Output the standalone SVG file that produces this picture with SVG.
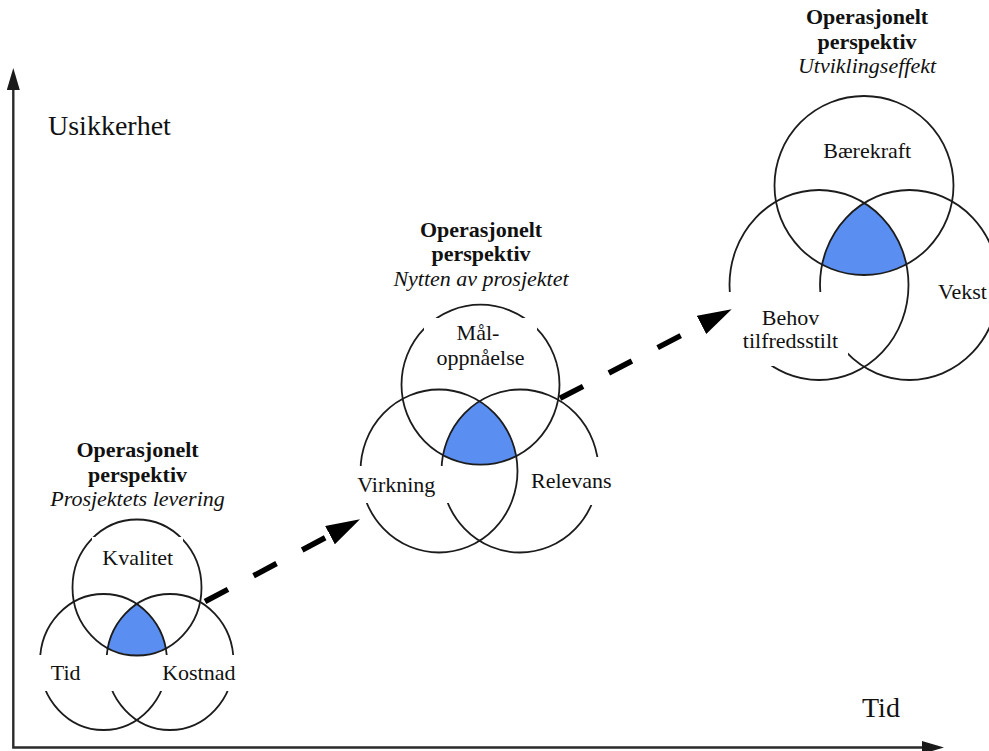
<svg xmlns="http://www.w3.org/2000/svg" width="989" height="751" viewBox="0 0 989 751" font-family="'Liberation Serif', 'Times New Roman', Tinos, Times, 'Nimbus Roman', 'DejaVu Serif', 'Noto Serif', serif">
  <defs>
    <style>
      .ring { fill: none; stroke: #1c1c1c; stroke-width: 1.8; }
      .core { fill: #5a8ef0; stroke: none; }
      .pad { fill: #ffffff; }
      text { font-family: 'Liberation Serif', 'Times New Roman', Tinos, Times, 'Nimbus Roman', 'DejaVu Serif', 'Noto Serif', serif; }
      .lbl { font-size: 22px; fill: #111; text-anchor: middle; }
      .head { font-weight: bold; }
      .sub { font-style: italic; }
      .axis-title { font-size: 28px; fill: #111; }
      .axis { fill: none; stroke: #2b2b2b; stroke-width: 2.4; }
      .flow { fill: none; stroke: #000; stroke-width: 5.5; stroke-dasharray: 26 29; }
    </style>
    <marker id="axis-tip" viewBox="0 0 22 13" refX="0" refY="6.5" markerWidth="22" markerHeight="13" markerUnits="userSpaceOnUse" orient="auto-start-reverse">
      <path d="M0,0 L22,6.5 L0,13 Z" fill="#1a1a1a"/>
    </marker>
    <marker id="flow-tip" viewBox="0 0 34 20.6" refX="0" refY="10.3" markerWidth="34" markerHeight="20.6" markerUnits="userSpaceOnUse" orient="auto">
      <path d="M0,0 L34,10.3 L0,20.6 Z" fill="#000"/>
    </marker>
  </defs>

  <rect width="989" height="751" fill="#ffffff"/>

  <!-- axes -->
  <g id="axes">
    <path class="axis" d="M13.3,90 V747.5 H922" marker-start="url(#axis-tip)" marker-end="url(#axis-tip)"/>
    <text class="axis-title" x="48" y="135">Usikkerhet</text>
    <text class="axis-title" x="862" y="717">Tid</text>
  </g>

  <!-- delivery stage -->
  <g id="venn-levering">
    <text class="lbl head" x="137.5" y="457">Operasjonelt</text>
    <text class="lbl head" x="137.5" y="481.5">perspektiv</text>
    <text class="lbl sub" x="137.5" y="506">Prosjektets levering</text>
    <path class="core" d="M136.75,604.1 A63.5,68 0 0 0 108.1,648 A64.5,68 0 0 0 165.6,648.2 A63.5,68 0 0 0 136.75,604.1 Z"/>
    <ellipse class="ring" cx="137" cy="587.5" rx="64.5" ry="68"/>
    <ellipse class="ring" cx="103.5" cy="662" rx="63.5" ry="68"/>
    <ellipse class="ring" cx="170" cy="662" rx="63.5" ry="68"/>
    <rect class="pad" x="92" y="537" width="91" height="34"/>
    <rect class="pad" x="36" y="655" width="78" height="36"/>
    <rect class="pad" x="154" y="655" width="86" height="36"/>
    <text class="lbl" x="137.8" y="565">Kvalitet</text>
    <text class="lbl" x="65.7" y="680">Tid</text>
    <text class="lbl" x="198.8" y="680">Kostnad</text>
  </g>

  <!-- benefit stage -->
  <g id="venn-nytte">
    <text class="lbl head" x="481" y="236.5">Operasjonelt</text>
    <text class="lbl head" x="481" y="261">perspektiv</text>
    <text class="lbl sub" x="481" y="285.5">Nytten av prosjektet</text>
    <path class="core" d="M479.5,401.2 A78.5,81.5 0 0 0 443,455.1 A79,80 0 0 0 516.1,455.8 A78.5,81.5 0 0 0 479.5,401.2 Z"/>
    <ellipse class="ring" cx="480.5" cy="384.7" rx="79" ry="80"/>
    <ellipse class="ring" cx="439" cy="471" rx="78.5" ry="81.5"/>
    <ellipse class="ring" cx="520" cy="471" rx="78.5" ry="81.5"/>
    <rect class="pad" x="424" y="318" width="113" height="54"/>
    <rect class="pad" x="352" y="466" width="99" height="37"/>
    <rect class="pad" x="524" y="457" width="82" height="48"/>
    <text class="lbl" x="478" y="340">Mål-</text>
    <text class="lbl" x="480.5" y="365">oppnåelse</text>
    <text class="lbl" x="396.3" y="492">Virkning</text>
    <text class="lbl" x="571.3" y="488">Relevans</text>
  </g>

  <!-- development effect stage -->
  <g id="venn-effekt">
    <text class="lbl head" x="867" y="24">Operasjonelt</text>
    <text class="lbl head" x="867" y="48.5">perspektiv</text>
    <text class="lbl sub" x="867" y="73">Utviklingseffekt</text>
    <path class="core" d="M864.25,203 A89.5,95 0 0 0 822.1,264.6 A89.5,89.5 0 0 0 906.1,264.5 A89.5,95 0 0 0 864.25,203 Z"/>
    <ellipse class="ring" cx="864" cy="185.5" rx="89.5" ry="89.5"/>
    <ellipse class="ring" cx="819" cy="285" rx="89.5" ry="95"/>
    <ellipse class="ring" cx="909.5" cy="285" rx="89.5" ry="95"/>
    <rect class="pad" x="726" y="292" width="122" height="74"/>
    <rect class="pad" x="934" y="278" width="55" height="28"/>
    <text class="lbl" x="867.2" y="158">Bærekraft</text>
    <text class="lbl" x="938" y="299" style="text-anchor:start">Vekst</text>
    <text class="lbl" x="790.5" y="325">Behov</text>
    <text class="lbl" x="790.5" y="348">tilfredsstilt</text>
  </g>

  <!-- progression arrows -->
  <g id="connectors">
    <path class="flow" d="M205,601.5 L330,535.2" marker-end="url(#flow-tip)"/>
    <path class="flow" d="M560,398.3 L701.5,324.9" marker-end="url(#flow-tip)"/>
  </g>
</svg>
